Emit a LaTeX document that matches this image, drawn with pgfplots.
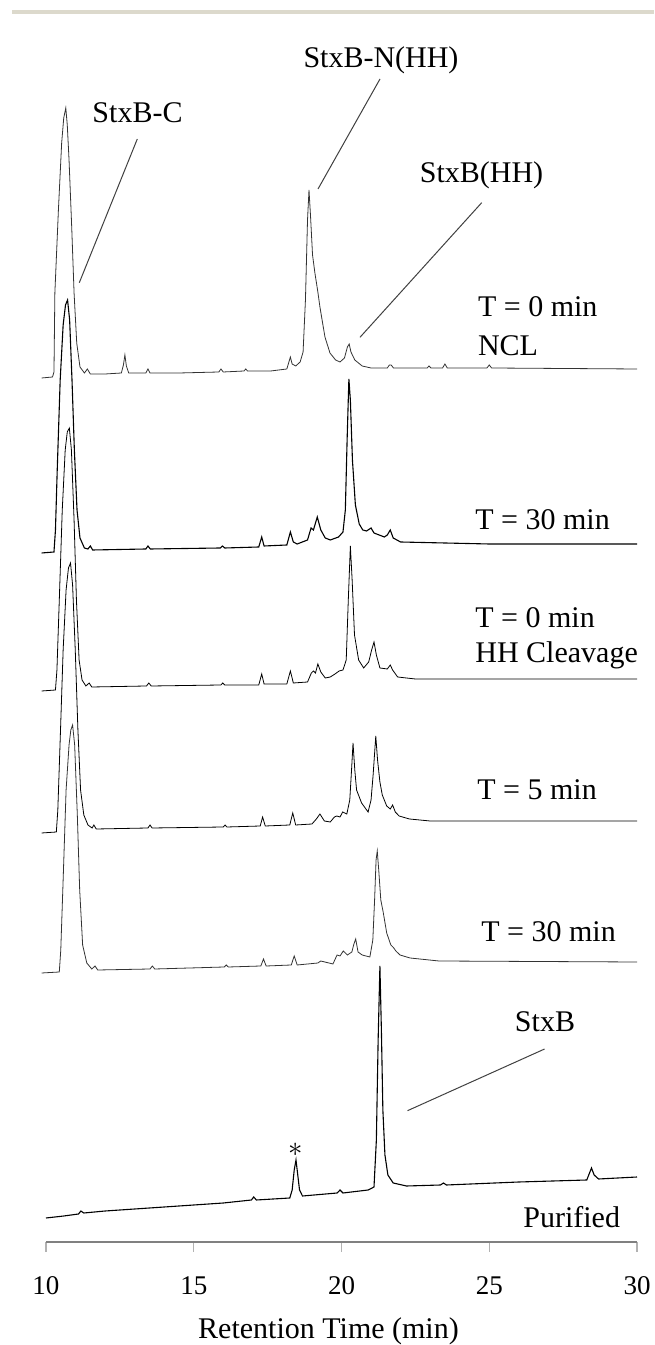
\documentclass[border=0pt]{standalone}
\usepackage{fontspec}
\setmainfont{Liberation Serif}
\usepackage{pgfplots}
\pgfplotsset{compat=1.18}
\definecolor{rulegray}{HTML}{DCD9CC}
\definecolor{trace}{HTML}{333333}
\begin{document}
\begin{tikzpicture}
\useasboundingbox (-23pt,-51.5pt) rectangle (304pt,621pt);
\fill[rulegray] (-17pt,614.2pt) rectangle (304pt,616.2pt);
\begin{axis}[
  at={(0,0)}, anchor=south west,
  scale only axis, width=295.5pt, height=621pt,
  xmin=10, xmax=30, ymin=-1242, ymax=0,
  clip=false,
  axis x line=bottom, axis y line=none,
  x axis line style={-, draw=gray, line width=1pt},
  xtick={10,15,20,25,30}, minor xtick={},
  tick align=outside, major tick length=5pt,
  xtick style={draw=gray!60, line width=0.6pt},
  /pgf/number format/assume math mode=true,
  xticklabel style={font=\fontsize{13.5}{16}\selectfont, anchor=base, text height=9pt, text depth=0pt, yshift=-21.5pt},
  xlabel={Retention Time (min)},
  xlabel style={at={(axis description cs:0.478,0)}, anchor=base, yshift=-48.5pt, font=\fontsize{15}{18}\selectfont},
  cycle list={{draw=trace, line width=0.55pt, mark=none, solid}},
]
% T = 0 min NCL
\addplot coordinates {(9.85,-378) (10.22,-377) (10.27,-372) (10.30,-293) (10.42,-210) (10.53,-143) (10.60,-118) (10.67,-108) (10.72,-125) (10.78,-160) (10.87,-227) (10.95,-293) (11.04,-343) (11.15,-367) (11.30,-373) (11.40,-369) (11.50,-374) (12.00,-374) (12.55,-373) (12.62,-365) (12.67,-355) (12.72,-366) (12.80,-373) (13.38,-373) (13.45,-369) (13.52,-373) (14.50,-373) (15.85,-372) (15.92,-369) (16.00,-372) (16.70,-371) (16.76,-369) (16.82,-371) (17.60,-371) (18.15,-369) (18.22,-362) (18.27,-357) (18.33,-364) (18.45,-366) (18.60,-362) (18.70,-352) (18.78,-300) (18.85,-220) (18.90,-190) (18.95,-215) (19.02,-255) (19.10,-273) (19.20,-292) (19.27,-307) (19.44,-337) (19.61,-353) (19.80,-360) (19.95,-362) (20.10,-358) (20.20,-347) (20.26,-344) (20.32,-352) (20.45,-360) (20.70,-366) (21.00,-368) (21.55,-368) (21.62,-365) (21.68,-365) (21.76,-368) (22.90,-368) (22.96,-366) (23.03,-368) (23.42,-368) (23.50,-364) (23.58,-368) (24.92,-368) (25.00,-365) (25.08,-368) (30.00,-369)};
% T = 30 min
\addplot coordinates {(9.85,-553) (10.27,-552) (10.32,-530) (10.38,-470) (10.48,-380) (10.58,-325) (10.66,-305) (10.73,-300) (10.80,-320) (10.88,-380) (10.96,-450) (11.05,-510) (11.15,-538) (11.30,-548) (11.42,-549) (11.50,-546) (11.58,-550) (13.38,-549) (13.45,-546) (13.53,-549) (15.90,-548) (15.97,-546) (16.05,-548) (17.20,-547) (17.30,-537) (17.38,-546) (18.15,-545) (18.27,-532) (18.37,-542) (18.50,-544) (18.85,-540) (18.97,-528) (19.05,-530) (19.18,-517) (19.30,-530) (19.45,-538) (19.62,-540) (19.90,-537) (20.05,-532) (20.13,-510) (20.19,-440) (20.25,-379) (20.30,-400) (20.37,-460) (20.47,-505) (20.60,-524) (20.72,-530) (20.85,-531) (21.00,-528) (21.10,-533) (21.45,-537) (21.55,-535) (21.65,-530) (21.75,-538) (22.00,-542) (25.00,-544) (30.00,-544)};
% T = 0 min HH cleavage
\addplot coordinates {(9.85,-691) (10.32,-690) (10.37,-670) (10.45,-600) (10.55,-510) (10.65,-450) (10.72,-432) (10.79,-428) (10.86,-450) (10.95,-520) (11.03,-600) (11.12,-660) (11.22,-680) (11.35,-686) (11.46,-683) (11.55,-687) (13.40,-686) (13.48,-683) (13.56,-686) (15.92,-685) (15.98,-683) (16.05,-685) (17.20,-685) (17.30,-674) (17.38,-684) (18.15,-684) (18.27,-671) (18.37,-683) (18.85,-682) (18.98,-673) (19.05,-671) (19.12,-673) (19.20,-664) (19.30,-672) (19.45,-678) (19.62,-677) (19.78,-674) (19.92,-671) (20.05,-670) (20.16,-660) (20.23,-600) (20.30,-546) (20.36,-580) (20.44,-635) (20.58,-660) (20.75,-668) (20.92,-662) (21.02,-650) (21.10,-642) (21.18,-655) (21.30,-668) (21.55,-669) (21.65,-665) (21.73,-670) (21.90,-677) (22.50,-679) (30.00,-679)};
% T = 5 min
\addplot coordinates {(9.85,-833) (10.35,-832) (10.40,-810) (10.48,-740) (10.58,-650) (10.68,-590) (10.76,-568) (10.83,-563) (10.90,-585) (10.99,-650) (11.08,-730) (11.17,-790) (11.28,-815) (11.42,-825) (11.56,-828) (11.62,-825) (11.70,-829) (13.45,-828) (13.52,-825) (13.59,-828) (16.00,-827) (16.06,-825) (16.12,-827) (17.25,-826) (17.33,-817) (17.42,-826) (18.25,-825) (18.35,-813) (18.45,-825) (19.00,-824) (19.15,-819) (19.27,-814) (19.42,-821) (19.62,-822) (19.76,-817) (19.84,-816) (19.95,-817) (20.04,-812) (20.18,-814) (20.28,-800) (20.34,-770) (20.39,-743) (20.45,-770) (20.51,-790) (20.68,-803) (20.90,-812) (21.00,-800) (21.07,-775) (21.16,-736) (21.22,-760) (21.30,-782) (21.38,-795) (21.53,-806) (21.65,-809) (21.73,-805) (21.82,-812) (21.95,-816) (22.30,-819) (23.00,-821) (30.00,-821)};
% T = 30 min
\addplot coordinates {(9.85,-973) (10.45,-972) (10.50,-950) (10.58,-880) (10.68,-790) (10.78,-745) (10.84,-730) (10.90,-725) (10.97,-745) (11.06,-815) (11.14,-890) (11.24,-945) (11.38,-963) (11.55,-969) (11.66,-966) (11.75,-970) (13.52,-969) (13.60,-966) (13.68,-969) (16.03,-967) (16.10,-965) (16.17,-967) (17.27,-966) (17.36,-959) (17.45,-966) (18.30,-965) (18.40,-956) (18.50,-965) (19.20,-963) (19.30,-961) (19.71,-964) (19.85,-955) (19.95,-956) (20.06,-951) (20.20,-955) (20.35,-952) (20.42,-944) (20.48,-939) (20.56,-952) (20.70,-955) (20.96,-957) (21.06,-940) (21.12,-900) (21.17,-860) (21.21,-851) (21.26,-870) (21.33,-900) (21.41,-912) (21.53,-933) (21.67,-945) (21.77,-948) (21.84,-951) (21.98,-955) (22.32,-958) (23.30,-961) (30.00,-962)};
% Purified
\addplot coordinates {(10.00,-1218) (10.60,-1216) (11.10,-1214) (11.18,-1211) (11.28,-1213) (12.00,-1211) (14.00,-1207) (16.00,-1203) (16.95,-1200) (17.03,-1197) (17.12,-1200) (18.25,-1198) (18.33,-1190) (18.40,-1170) (18.46,-1160) (18.52,-1175) (18.58,-1190) (18.68,-1196) (19.85,-1193) (19.95,-1190) (20.05,-1193) (20.90,-1190) (21.10,-1187) (21.18,-1140) (21.24,-1040) (21.30,-966) (21.35,-1030) (21.40,-1110) (21.47,-1155) (21.57,-1175) (21.75,-1183) (22.20,-1186) (23.35,-1185) (23.45,-1183) (23.55,-1185) (26.00,-1182) (28.30,-1180) (28.38,-1174) (28.46,-1168) (28.55,-1175) (28.70,-1179) (30.00,-1177)};
\node[font=\fontsize{15}{15}\selectfont] at (axis cs:18.45,-1150) {$\ast$};
\end{axis}
\begin{scope}[font=\fontsize{15}{18}\selectfont]
\node[anchor=base] at (45.75pt,559.5pt) {StxB-C};
\node[anchor=base] at (167.5pt,587pt) {StxB-N(HH)};
\node[anchor=base] at (217.75pt,529.5pt) {StxB(HH)};
\node[anchor=base west, inner sep=0pt] at (215.8pt,462.6pt) {T = 0 min};
\node[anchor=base west, inner sep=0pt] at (215.8pt,443pt) {NCL};
\node[anchor=base west, inner sep=0pt] at (214.5pt,356pt) {T = 30 min};
\node[anchor=base west, inner sep=0pt] at (214.5pt,307pt) {T = 0 min};
\node[anchor=base west, inner sep=0pt] at (214.5pt,289.5pt) {HH Cleavage};
\node[anchor=base west, inner sep=0pt] at (215.5pt,221pt) {T = 5 min};
\node[anchor=base west, inner sep=0pt] at (217.5pt,150pt) {T = 30 min};
\node[anchor=base] at (249.5pt,105pt) {StxB};
\node[anchor=base west, inner sep=0pt] at (238.5pt,7pt) {Purified};
\end{scope}
\begin{scope}[draw=black!75, line width=0.5pt]
\draw (45.65pt,551.5pt) -- (16.65pt,479.65pt);
\draw (167pt,581.5pt) -- (136pt,526.5pt);
\draw (217.85pt,519.65pt) -- (157pt,452.35pt);
\draw (249.3pt,96.5pt) -- (180.75pt,65.65pt);
\end{scope}
\end{tikzpicture}
\end{document}
